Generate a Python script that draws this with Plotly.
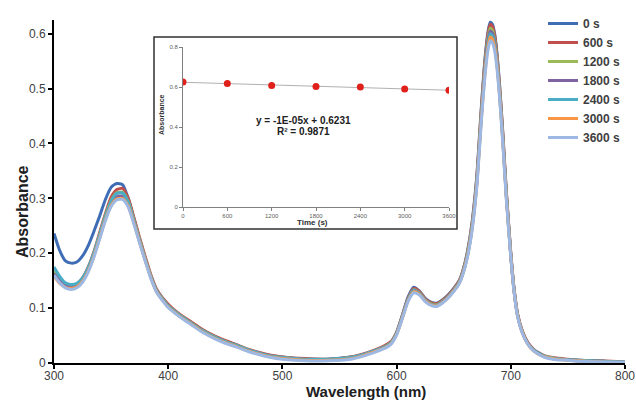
import numpy as np
import plotly.graph_objects as go

wavelength = [300,305,310,315,320,325,330,335,340,345,350,355,360,365,370,375,380,385,390,
              400,410,420,430,440,450,460,470,480,490,500,
              520,540,560,570,580,590,595,
              600,605,610,615,620,625,630,635,640,645,650,655,660,665,670,
              674,677,680,682,684,686,688,690,693,696,
              700,703,706,710,715,720,725,730,
              740,750,760,780,800]

abs_0s = [0.236,0.205,0.186,0.182,0.184,0.195,0.214,0.240,0.268,0.298,0.320,0.327,0.325,0.300,0.263,0.225,0.190,0.157,0.132,
          0.105,0.087,0.074,0.060,0.049,0.040,0.033,0.024,0.018,0.013,0.011,
          0.007,0.007,0.011,0.015,0.022,0.031,0.038,
          0.056,0.087,0.120,0.138,0.131,0.118,0.111,0.109,0.115,0.124,0.136,0.151,0.184,0.240,0.335,
          0.460,0.545,0.603,0.621,0.617,0.598,0.562,0.512,0.420,0.315,
          0.200,0.132,0.088,0.058,0.036,0.024,0.017,0.012,
          0.008,0.006,0.005,0.003,0.001]
abs_600s = [0.165,0.152,0.143,0.140,0.143,0.155,0.175,0.203,0.238,0.272,0.302,0.316,0.318,0.300,0.265,0.228,0.193,0.160,0.134,
            0.107,0.089,0.075,0.061,0.050,0.041,0.033,0.025,0.019,0.014,0.011,
            0.008,0.007,0.011,0.016,0.023,0.032,0.039,
            0.056,0.086,0.118,0.136,0.130,0.117,0.110,0.108,0.114,0.123,0.135,0.150,0.182,0.237,0.331,
            0.456,0.541,0.599,0.617,0.613,0.595,0.559,0.509,0.418,0.314,
            0.200,0.133,0.089,0.059,0.037,0.025,0.018,0.013,
            0.009,0.007,0.005,0.004,0.002]
abs_1200s = [0.168,0.153,0.143,0.140,0.142,0.153,0.172,0.200,0.234,0.268,0.296,0.310,0.311,0.294,0.260,0.224,0.189,0.157,0.131,
             0.104,0.087,0.073,0.059,0.048,0.039,0.032,0.024,0.017,0.012,0.010,
             0.006,0.006,0.010,0.014,0.021,0.030,0.037,
             0.054,0.084,0.116,0.134,0.128,0.115,0.108,0.106,0.112,0.121,0.133,0.148,0.180,0.234,0.327,
             0.450,0.534,0.592,0.610,0.606,0.588,0.553,0.504,0.413,0.310,
             0.197,0.130,0.087,0.057,0.035,0.023,0.016,0.012,
             0.008,0.006,0.004,0.003,0.001]
abs_1800s = [0.163,0.150,0.141,0.139,0.141,0.151,0.170,0.197,0.230,0.263,0.290,0.303,0.304,0.289,0.257,0.221,0.187,0.155,0.130,
             0.103,0.086,0.072,0.058,0.047,0.038,0.031,0.023,0.017,0.012,0.009,
             0.006,0.006,0.009,0.014,0.021,0.029,0.036,
             0.053,0.083,0.115,0.133,0.127,0.114,0.107,0.105,0.111,0.120,0.132,0.147,0.178,0.232,0.324,
             0.446,0.529,0.587,0.605,0.601,0.584,0.549,0.500,0.410,0.308,
             0.196,0.129,0.086,0.056,0.035,0.023,0.016,0.011,
             0.007,0.006,0.004,0.003,0.001]
abs_2400s = [0.175,0.158,0.146,0.143,0.145,0.155,0.174,0.201,0.234,0.267,0.295,0.309,0.310,0.293,0.259,0.223,0.188,0.156,0.131,
             0.104,0.087,0.073,0.059,0.048,0.039,0.032,0.024,0.018,0.013,0.010,
             0.007,0.007,0.010,0.015,0.022,0.030,0.037,
             0.054,0.084,0.115,0.132,0.126,0.114,0.107,0.105,0.111,0.120,0.132,0.147,0.178,0.231,0.322,
             0.443,0.525,0.582,0.600,0.596,0.579,0.545,0.497,0.407,0.306,
             0.195,0.129,0.086,0.057,0.035,0.024,0.017,0.012,
             0.008,0.006,0.005,0.003,0.002]
abs_3000s = [0.158,0.145,0.138,0.136,0.139,0.149,0.168,0.195,0.228,0.261,0.287,0.299,0.300,0.286,0.255,0.220,0.186,0.154,0.129,
             0.102,0.085,0.071,0.057,0.046,0.037,0.030,0.022,0.016,0.011,0.008,
             0.005,0.005,0.008,0.013,0.020,0.028,0.035,
             0.052,0.082,0.113,0.130,0.125,0.113,0.106,0.104,0.110,0.119,0.131,0.146,0.177,0.229,0.319,
             0.439,0.520,0.576,0.594,0.590,0.574,0.540,0.492,0.404,0.304,
             0.194,0.128,0.085,0.056,0.034,0.022,0.015,0.011,
             0.007,0.005,0.004,0.002,0.001]
abs_3600s = [0.160,0.146,0.137,0.134,0.137,0.147,0.166,0.193,0.226,0.259,0.285,0.297,0.298,0.284,0.253,0.218,0.185,0.153,0.128,
             0.101,0.084,0.070,0.056,0.045,0.036,0.029,0.021,0.015,0.010,0.007,
             0.004,0.004,0.007,0.012,0.019,0.027,0.034,
             0.051,0.081,0.112,0.128,0.124,0.112,0.105,0.103,0.109,0.118,0.130,0.145,0.175,0.226,0.315,
             0.434,0.514,0.570,0.587,0.583,0.567,0.534,0.487,0.400,0.301,
             0.192,0.127,0.084,0.055,0.034,0.022,0.015,0.010,
             0.006,0.005,0.003,0.002,0.001]

series_names = ["0 s", "600 s", "1200 s", "1800 s", "2400 s", "3000 s", "3600 s"]
series_values = [abs_0s, abs_600s, abs_1200s, abs_1800s, abs_2400s, abs_3000s, abs_3600s]
series_colors = ["#3e6db5", "#c0504d", "#9bbb59", "#8064a2", "#4bacc6", "#f79646", "#9db8e3"]

# inset data
inset_time = [0, 600, 1200, 1800, 2400, 3000, 3600]
inset_abs = [0.625, 0.618, 0.607, 0.602, 0.600, 0.590, 0.584]
inset_xticks = [0, 600, 1200, 1800, 2400, 3000, 3600]
inset_yticks = [0, 0.2, 0.4, 0.6, 0.8]

FONT = "Liberation Sans, Arial, sans-serif"

fig = go.Figure()
for name, vals, col in zip(series_names, series_values, series_colors):
    fig.add_trace(go.Scatter(x=wavelength, y=vals, mode="lines", name=name,
                             line=dict(color=col, width=3, shape="spline", smoothing=0.6)))

# trendline from least squares fit
slope, intercept = np.polyfit(inset_time, inset_abs, 1)
t_line = [inset_time[0], inset_time[-1]]
fig.add_trace(go.Scatter(x=t_line, y=[intercept + slope * t for t in t_line], mode="lines",
                         line=dict(color="#b0b0b0", width=1), xaxis="x2", yaxis="y2",
                         showlegend=False, hoverinfo="skip"))
fig.add_trace(go.Scatter(x=inset_time, y=inset_abs, mode="markers",
                         marker=dict(color="#e0201b", size=7), xaxis="x2", yaxis="y2",
                         showlegend=False))

# paper geometry
L, R, T, B = 54, 11, 20, 37
W, H = 636, 400
pw, ph = W - L - R, H - T - B
def px(x):
    return (x - L) / pw
def py(y):
    return (H - B - y) / ph

fig.update_layout(
    width=W, height=H,
    margin=dict(l=L, r=R, t=T, b=B, autoexpand=False),
    paper_bgcolor="white", plot_bgcolor="white",
    font=dict(family=FONT, color="#404040", size=12),
    xaxis=dict(range=[300, 800], tickvals=[300, 400, 500, 600, 700, 800],
               showgrid=False, zeroline=False, showline=True, linecolor="black", linewidth=2,
               ticks="outside", ticklen=4, tickcolor="black", tickwidth=1.5,
               ticklabelstandoff=-3,
               tickfont=dict(size=12, color="#404040")),
    yaxis=dict(range=[0, 0.625], tickvals=[0, 0.1, 0.2, 0.3, 0.4, 0.5, 0.6],
               ticktext=["0", "0.1", "0.2", "0.3", "0.4", "0.5", "0.6"],
               showgrid=False, zeroline=False, showline=True, linecolor="black", linewidth=2,
               ticks="outside", ticklen=4, tickcolor="black", tickwidth=1.5,
               tickfont=dict(size=12, color="#404040")),
    xaxis2=dict(domain=[px(183), px(449)], anchor="y2", range=[0, 3600], tickvals=inset_xticks,
                showgrid=False, zeroline=False, showline=True, linecolor="#808080", linewidth=1,
                ticks="outside", ticklen=3, tickcolor="#808080",
                tickfont=dict(size=6, color="#606060")),
    yaxis2=dict(domain=[py(207), py(47)], anchor="x2", range=[0, 0.8], tickvals=inset_yticks,
                ticktext=["0", "0.2", "0.4", "0.6", "0.8"],
                showgrid=False, zeroline=False, showline=True, linecolor="#808080", linewidth=1,
                ticks="outside", ticklen=3, tickcolor="#808080",
                tickfont=dict(size=6, color="#606060")),
    legend=dict(x=px(543), y=py(9), xanchor="left", yanchor="top",
                font=dict(size=12, color="#404040", family=FONT, weight="bold"),
                bgcolor="rgba(0,0,0,0)", borderwidth=0, itemwidth=30),
    shapes=[dict(type="rect", xref="paper", yref="paper",
                 x0=px(154), x1=px(457), y0=py(229), y1=py(37),
                 line=dict(color="#303030", width=1.5), fillcolor="white", layer="below")],
    annotations=[
        dict(text="<b>Wavelength (nm)</b>", xref="paper", yref="paper", x=px(366), y=py(391),
             showarrow=False, font=dict(size=15, color="#202020"), xanchor="center", yanchor="middle"),
        dict(text="<b>Absorbance</b>", xref="paper", yref="paper", x=px(22), y=py(212),
             showarrow=False, font=dict(size=16, color="#202020"), textangle=-90,
             xanchor="center", yanchor="middle"),
        dict(text="<b>Time (s)</b>", xref="paper", yref="paper", x=px(312), y=py(222),
             showarrow=False, font=dict(size=8, color="#303030"), xanchor="center", yanchor="middle"),
        dict(text="<b>Absorbance</b>", xref="paper", yref="paper", x=px(161), y=py(115),
             showarrow=False, font=dict(size=7, color="#303030"), textangle=-90,
             xanchor="center", yanchor="middle"),
        dict(text="<b>y = -1E-05x + 0.6231</b>", xref="paper", yref="paper", x=px(303), y=py(121),
             showarrow=False, font=dict(size=10, color="#202020"), xanchor="center", yanchor="middle"),
        dict(text="<b>R² = 0.9871</b>", xref="paper", yref="paper", x=px(303), y=py(131),
             showarrow=False, font=dict(size=10, color="#202020"), xanchor="center", yanchor="middle"),
    ],
)

fig.write_html("out.html", config={"displayModeBar": False},
               post_script="document.body.style.margin='0';")
